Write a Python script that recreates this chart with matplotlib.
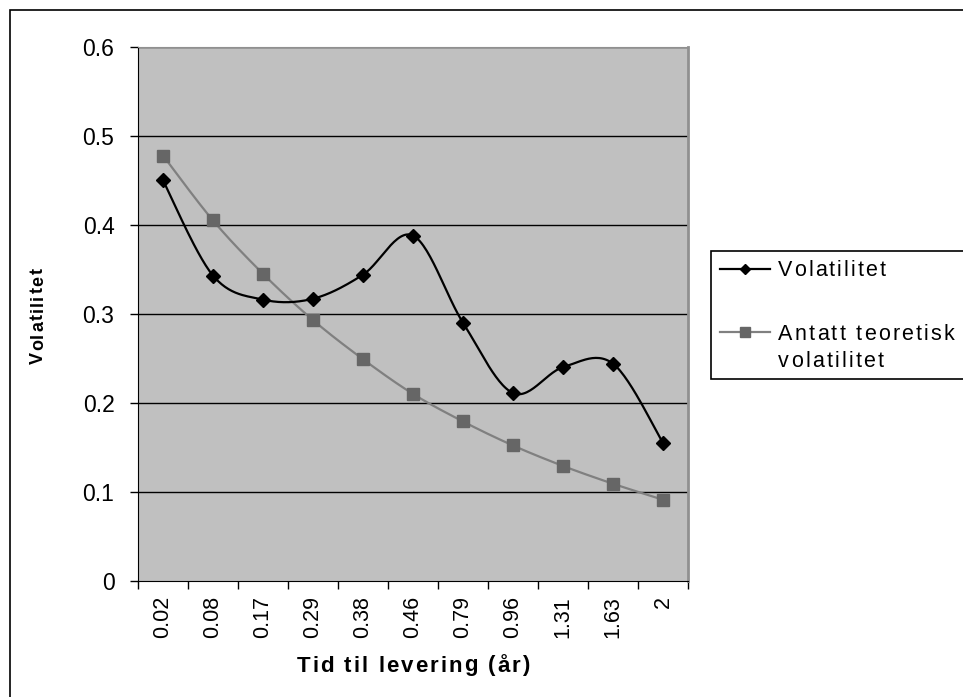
import numpy as np
import matplotlib
matplotlib.use("Agg")
import matplotlib.pyplot as plt
from matplotlib.lines import Line2D
from matplotlib.patches import Rectangle
from matplotlib import font_manager
from matplotlib.font_manager import FontProperties
from matplotlib.ft2font import FT2Font, LOAD_NO_HINTING

plt.rcParams['font.family'] = ['Liberation Sans', 'DejaVu Sans']

# Time to delivery (years) and volatility series
categories = ["0.02", "0.08", "0.17", "0.29", "0.38", "0.46", "0.79", "0.96", "1.31", "1.63", "2"]
volatilitet = [0.450, 0.343, 0.316, 0.317, 0.344, 0.388, 0.290, 0.211, 0.240, 0.244, 0.155]
teoretisk = [0.478, 0.405, 0.345, 0.293, 0.249, 0.210, 0.179, 0.152, 0.129, 0.109, 0.091]
y_ticks = [0, 0.1, 0.2, 0.3, 0.4, 0.5, 0.6]
y_tick_labels = ["0", "0.1", "0.2", "0.3", "0.4", "0.5", "0.6"]

W, H = 963, 697
DPI = 100


def smooth(xs, ys, n=30):
    """Catmull-Rom style cubic Bezier smoothing through every point."""
    p = np.column_stack([xs, ys]).astype(float)
    pts = np.vstack([p[0], p, p[-1]])
    out = [p[0]]
    t = np.linspace(0, 1, n)[1:, None]
    for i in range(1, len(pts) - 2):
        p0, p1, p2, p3 = pts[i - 1], pts[i], pts[i + 1], pts[i + 2]
        b1 = p1 + (p2 - p0) / 6.0
        b2 = p2 - (p3 - p1) / 6.0
        seg = ((1 - t) ** 3) * p1 + 3 * ((1 - t) ** 2) * t * b1 + 3 * (1 - t) * t ** 2 * b2 + t ** 3 * p2
        out.extend(seg)
    out = np.array(out)
    return out[:, 0], out[:, 1]


def tracked_text(fig, x_px, y_px, s, size, weight='normal', track=0.0, ha='left', vertical=False):
    """Draw text with extra letter spacing; (x_px, y_px) is the baseline anchor in pixels from top-left."""
    path = font_manager.findfont(FontProperties(family='Liberation Sans', weight=weight))
    ft = FT2Font(path)
    ft.set_size(size, DPI)
    adv = [ft.load_char(ord(c), flags=LOAD_NO_HINTING).linearHoriAdvance / 65536 for c in s]
    total = sum(adv) + track * (len(s) - 1)
    off = {'left': 0, 'center': -total / 2, 'right': -total}[ha]
    pos = off
    for c, a in zip(s, adv):
        if vertical:
            fx, fy = x_px / W, 1 - (y_px - pos) / H
            fig.text(fx, fy, c, fontsize=size, fontweight=weight, rotation=90,
                     rotation_mode='anchor', ha='left', va='baseline')
        else:
            fx, fy = (x_px + pos) / W, 1 - y_px / H
            fig.text(fx, fy, c, fontsize=size, fontweight=weight, ha='left', va='baseline')
        pos += a + track


fig = plt.figure(figsize=(W / DPI, H / DPI), dpi=DPI)

# outer chart border (only top/left edges fall inside the canvas)
fig.patches.append(Rectangle((10 / W, -0.1), 1.2, 1 - 10 / H + 0.1, transform=fig.transFigure,
                             fill=False, edgecolor='black', linewidth=1.2))

ax = fig.add_axes([138 / W, 1 - 580.7 / H, (688 - 138) / W, (580.7 - 47) / H])
ax.set_facecolor('#C0C0C0')

x = np.arange(len(categories))
ax.set_xlim(-0.5, len(categories) - 0.5)
ax.set_ylim(0, 0.6)

for yv in y_ticks[1:]:
    ax.axhline(yv, color='black', linewidth=1.0, zorder=1)

sx, sy = smooth(x, teoretisk)
ax.plot(sx, sy, color='#808080', linewidth=1.6, zorder=2)
ax.plot(x, teoretisk, linestyle='none', marker='s', markersize=9,
        markerfacecolor='#666666', markeredgecolor='#666666', zorder=3)

sx, sy = smooth(x, volatilitet)
ax.plot(sx, sy, color='black', linewidth=1.6, zorder=4)
ax.plot(x, volatilitet, linestyle='none', marker='D', markersize=6.8,
        markerfacecolor='black', markeredgecolor='black', zorder=5)

ax.spines['left'].set_color('black')
ax.spines['bottom'].set_color('black')
ax.spines['top'].set_color('#909090')
ax.spines['right'].set_color('#909090')
ax.spines['right'].set_linewidth(2)
for s in ax.spines.values():
    s.set_zorder(6)

ax.set_yticks(y_ticks)
ax.set_yticklabels(y_tick_labels, fontsize=16.5)
ax.tick_params(axis='y', direction='out', length=6, width=1, pad=11)

ax.set_xticks(np.arange(len(categories) + 1) - 0.5)
ax.set_xticklabels([])
ax.set_xticks(x, minor=True)
ax.set_xticklabels(categories, minor=True, rotation=90, fontsize=15.5)
ax.tick_params(axis='x', which='major', direction='out', length=6, width=1)
ax.tick_params(axis='x', which='minor', length=0, pad=11)

# axis titles with wide letter spacing
tracked_text(fig, 413, 671.5, "Tid til levering (år)", 16, weight='bold', track=2.0, ha='center')
tracked_text(fig, 43, 316, "Volatilitet", 13, weight='bold', track=1.4, ha='center', vertical=True)

# legend box
fig.patches.append(Rectangle((711 / W, 1 - 379 / H), 0.5, (379 - 251) / H, transform=fig.transFigure,
                             fill=True, facecolor='white', edgecolor='black', linewidth=1.2, zorder=1))
legend_rows = [
    (269, 'black', '#000000', 'D', 5.5),
    (332, '#808080', '#666666', 's', 7.5),
]
for yc, lc, mc, mk, ms in legend_rows:
    yf = 1 - yc / H
    fig.lines.append(Line2D([720 / W, 770 / W], [yf, yf], transform=fig.transFigure,
                            color=lc, linewidth=1.6, zorder=2))
    fig.lines.append(Line2D([745 / W], [yf], transform=fig.transFigure, marker=mk, markersize=ms,
                            markerfacecolor=mc, markeredgecolor=mc, zorder=3))

tracked_text(fig, 778, 276, "Volatilitet", 15.5, track=2.0)
tracked_text(fig, 778, 340, "Antatt teoretisk", 15.5, track=2.2)
tracked_text(fig, 778, 367, "volatilitet", 15.5, track=2.2)

fig.savefig("out.png", dpi=DPI)
